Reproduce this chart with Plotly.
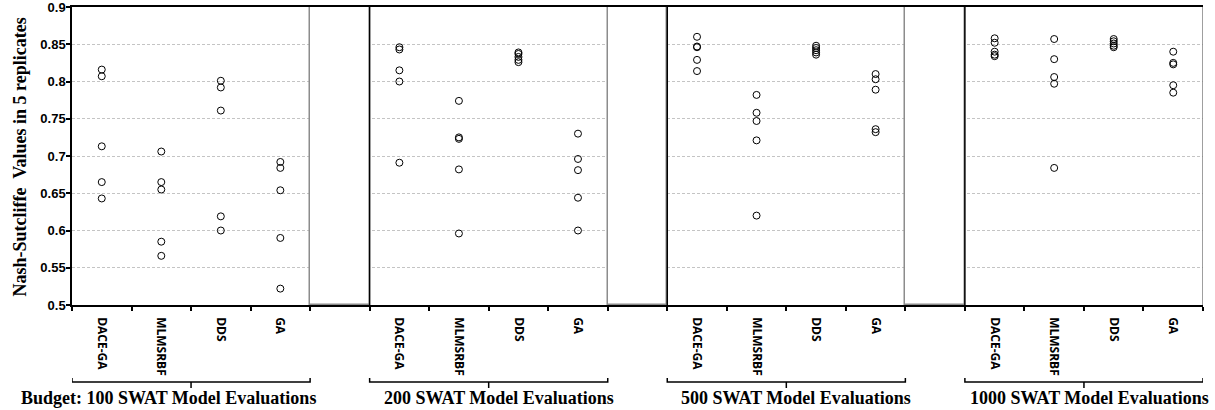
import plotly.graph_objects as go

# Optimisation methods compared within each evaluation budget
methods = ["DACE-GA", "MLMSRBF", "DDS", "GA"]
budgets = ["100", "200", "500", "1000"]

# Nash-Sutcliffe efficiency of the 5 replicates, one inner list per method
nse_100 = [
    [0.816, 0.807, 0.713, 0.665, 0.643],
    [0.706, 0.665, 0.655, 0.585, 0.566],
    [0.801, 0.792, 0.761, 0.619, 0.600],
    [0.692, 0.684, 0.654, 0.590, 0.522],
]
nse_200 = [
    [0.846, 0.843, 0.815, 0.800, 0.691],
    [0.774, 0.725, 0.723, 0.682, 0.596],
    [0.839, 0.837, 0.833, 0.829, 0.826],
    [0.730, 0.696, 0.681, 0.644, 0.600],
]
nse_500 = [
    [0.860, 0.847, 0.846, 0.829, 0.814],
    [0.782, 0.758, 0.747, 0.721, 0.620],
    [0.848, 0.845, 0.842, 0.839, 0.836],
    [0.810, 0.803, 0.789, 0.736, 0.732],
]
nse_1000 = [
    [0.858, 0.852, 0.840, 0.836, 0.834],
    [0.857, 0.830, 0.806, 0.797, 0.684],
    [0.857, 0.854, 0.851, 0.848, 0.846],
    [0.840, 0.825, 0.823, 0.795, 0.785],
]
all_budgets = [nse_100, nse_200, nse_500, nse_1000]

# Spacer columns between budget groups
gap_top = [0.9, 0.9, 0.9]
y_min = 0.5

y_ticks = [0.5, 0.55, 0.6, 0.65, 0.7, 0.75, 0.8, 0.85, 0.9]
y_tick_text = ["0.5", "0.55", "0.6", "0.65", "0.7", "0.75", "0.8", "0.85", "0.9"]

SLOTS = len(methods) + 1          # methods plus one spacer per group
n_slots = SLOTS * len(budgets) - 1

fig = go.Figure()

# Spacer bars (white boxes covering the grid)
gap_x = [g * SLOTS + len(methods) for g in range(len(gap_top))]
fig.add_trace(go.Bar(
    x=gap_x, y=[t - y_min for t in gap_top], base=y_min, width=1,
    marker=dict(color="white", line=dict(color="#8c8c8c", width=1.5)),
    showlegend=False, hoverinfo="skip",
))

# Replicate points
for b, data in enumerate(all_budgets):
    xs, ys = [], []
    for m, vals in enumerate(data):
        xs += [b * SLOTS + m] * len(vals)
        ys += vals
    fig.add_trace(go.Scatter(
        x=xs, y=ys, mode="markers",
        marker=dict(symbol="circle-open", size=7, color="black",
                    line=dict(width=1)),
        showlegend=False, name=budgets[b] + " evaluations",
    ))

cat_x = [b * SLOTS + m for b in range(len(budgets)) for m in range(len(methods))]
cat_text = [m for _ in budgets for m in methods]
bounds = [i - 0.5 for i in range(n_slots + 1)]

fig.update_xaxes(
    range=[-0.5, n_slots - 0.5], automargin=False,
    tickmode="array", tickvals=cat_x, ticktext=cat_text, ticks="",
    tickangle=90, ticklabelstandoff=8,
    tickfont=dict(family="Open Sans", size=12, color="black", weight="bold"),
    minor=dict(tickmode="array", tickvals=bounds, ticks="outside",
               ticklen=4, tickcolor="black", tickwidth=1.5, showgrid=False),
    showline=True, linecolor="black", linewidth=1.5, mirror=True,
    showgrid=False, zeroline=False,
)
fig.update_yaxes(
    range=[0.5, 0.9], automargin=False, ticklabeloverflow="allow",
    tickmode="array", tickvals=y_ticks, ticktext=y_tick_text,
    ticks="outside", ticklen=4, tickcolor="black", tickwidth=1.5,
    ticklabelstandoff=-2,
    tickfont=dict(family="Liberation Sans", size=13, color="black", weight="bold"),
    showline=True, linecolor="black", linewidth=1.5,
    showgrid=True, gridcolor="#c4c4c4", griddash="3px,2px", gridwidth=1,
    zeroline=False,
)

shapes = []
# dark edge on the right of each spacer box
for gx, top in zip(gap_x, gap_top):
    shapes.append(dict(type="line", xref="x", yref="y", x0=gx + 0.5, x1=gx + 0.5,
                       y0=y_min, y1=top, line=dict(color="black", width=1.5)))
# grey right frame
shapes.append(dict(type="line", xref="x", yref="y", x0=n_slots - 0.5, x1=n_slots - 0.5,
                   y0=0.5, y1=0.9, line=dict(color="#7f7f7f", width=1.5)))

# Group brackets below the method names
plot_top, plot_bot = 7.0, 305.0


def paper_y(px):
    return (plot_bot - px) / (plot_bot - plot_top)


y_line, y_end, y_mid = paper_y(382), paper_y(378), paper_y(388)
for b in range(len(budgets)):
    x0 = b * SLOTS - 0.5
    x1 = b * SLOTS + len(methods) - 0.5
    xm = (x0 + x1) / 2
    path = (f"M {x0},{y_end} L {x0},{y_line} L {x1},{y_line} L {x1},{y_end} "
            f"M {xm},{y_line} L {xm},{y_mid}")
    shapes.append(dict(type="path", xref="x", yref="paper", path=path,
                       line=dict(color="black", width=1.5)))

annotations = []
for b, budget in enumerate(budgets):
    label = f"{budget} SWAT Model Evaluations"
    if b == 0:
        label = "Budget: " + label
    annotations.append(dict(
        x=b * SLOTS + len(methods) - 0.5, xref="x", xanchor="right", xshift=8,
        y=paper_y(398), yref="paper", yanchor="middle",
        text=f"<b>{label}</b>", showarrow=False,
        font=dict(family="Liberation Serif", size=18, color="black"),
    ))

annotations.append(dict(
    x=(19 - 72) / 1131, xref="paper", xanchor="center",
    y=paper_y(157.5), yref="paper", yanchor="middle", textangle=-90,
    text="<b>Nash-Sutcliffe  Values in 5 replicates</b>", showarrow=False,
    font=dict(family="Liberation Serif", size=18, color="black"),
))

fig.update_layout(
    width=1215, height=410,
    margin=dict(l=72, r=12, t=7, b=105, autoexpand=False),
    paper_bgcolor="white", plot_bgcolor="white",
    shapes=shapes, annotations=annotations,
    bargap=0,
)

fig.write_html("out.html")
